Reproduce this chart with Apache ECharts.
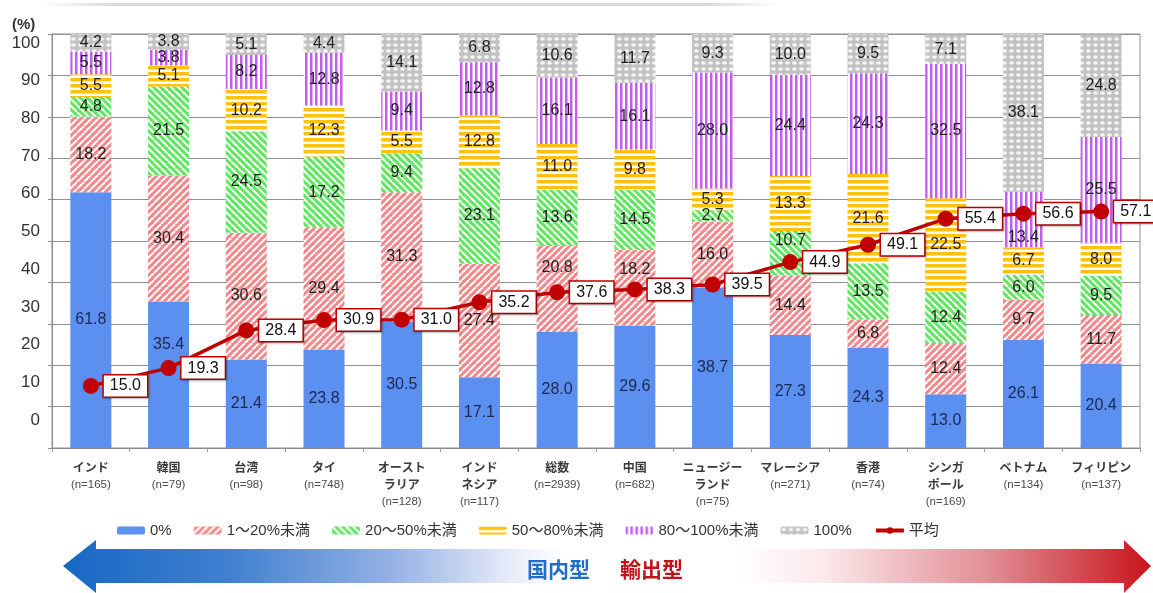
<!DOCTYPE html>
<html>
<head>
<meta charset="utf-8">
<script src="https://cdn.jsdelivr.net/npm/echarts@6/dist/echarts.min.js"></script>
<style>
  html, body { margin: 0; padding: 0; background: #fff; }
  #chart { width: 1153px; height: 593px; }
</style>
</head>
<body>
<div id="chart"></div>
<script>
// Country / region names (line breaks as printed) and sample sizes
const categories = ['インド', '韓国', '台湾', 'タイ', 'オースト\nラリア', 'インド\nネシア', '総数', '中国', 'ニュージー\nランド', 'マレーシア', '香港', 'シンガ\nポール', 'ベトナム', 'フィリピン'];
const sampleSizes = [165, 79, 98, 748, 128, 117, 2939, 682, 75, 271, 74, 169, 134, 137];

// Share of companies by export ratio band (%)
const band0 = [61.8, 35.4, 21.4, 23.8, 30.5, 17.1, 28.0, 29.6, 38.7, 27.3, 24.3, 13.0, 26.1, 20.4];
const band1to20 = [18.2, 30.4, 30.6, 29.4, 31.3, 27.4, 20.8, 18.2, 16.0, 14.4, 6.8, 12.4, 9.7, 11.7];
const band20to50 = [4.8, 21.5, 24.5, 17.2, 9.4, 23.1, 13.6, 14.5, 2.7, 10.7, 13.5, 12.4, 6.0, 9.5];
const band50to80 = [5.5, 5.1, 10.2, 12.3, 5.5, 12.8, 11.0, 9.8, 5.3, 13.3, 21.6, 22.5, 6.7, 8.0];
const band80to100 = [5.5, 3.8, 8.2, 12.8, 9.4, 12.8, 16.1, 16.1, 28.0, 24.4, 24.3, 32.5, 13.4, 25.5];
const band100 = [4.2, 3.8, 5.1, 4.4, 14.1, 6.8, 10.6, 11.7, 9.3, 10.0, 9.5, 7.1, 38.1, 24.8];

// Average export ratio (%)
const averageRatio = [15.0, 19.3, 28.4, 30.9, 31.0, 35.2, 37.6, 38.3, 39.5, 44.9, 49.1, 55.4, 56.6, 57.1];

const bandNames = ['0%', '1～20%未満', '20～50%未満', '50～80%未満', '80～100%未満', '100%'];
const averageName = '平均';
const yTicks = [0, 10, 20, 30, 40, 50, 60, 70, 80, 90, 100];

// A few segment labels are nudged vertically (px) so they clear the average line's boxes.
// key: "band index:category index"
const labelNudge = { '0:1': -30, '1:6': -21, '1:7': -18, '2:9': -13, '4:12': 18 };

// ---- fill patterns ----
function pattern(w, h, draw) {
  const c = document.createElement('canvas');
  c.width = w; c.height = h;
  const g = c.getContext('2d');
  draw(g, w, h);
  return { image: c, repeat: 'repeat' };
}
const redHatch = pattern(7, 7, (g, w, h) => {
  g.fillStyle = '#f4878a'; g.fillRect(0, 0, w, h);
  g.strokeStyle = '#ffffff'; g.lineWidth = 2;
  for (const o of [-w, 0, w]) { g.beginPath(); g.moveTo(o, h); g.lineTo(o + h, 0); g.stroke(); }
});
const greenHatch = pattern(7, 7, (g, w, h) => {
  g.fillStyle = '#5fe85f'; g.fillRect(0, 0, w, h);
  g.strokeStyle = '#ffffff'; g.lineWidth = 2;
  for (const o of [-w, 0, w]) { g.beginPath(); g.moveTo(o, 0); g.lineTo(o + h, h); g.stroke(); }
});
const yellowStripes = pattern(4, 6, (g, w, h) => {
  g.fillStyle = '#ffffff'; g.fillRect(0, 0, w, h);
  g.fillStyle = '#ffc20e'; g.fillRect(0, 0, w, 3.5);
});
const purpleStripes = pattern(5, 4, (g, w, h) => {
  g.fillStyle = '#ffffff'; g.fillRect(0, 0, w, h);
  g.fillStyle = '#c45cf2'; g.fillRect(0, 0, 2.5, h);
});
const grayDots = pattern(7, 6, (g, w, h) => {
  g.fillStyle = '#c2c2c2'; g.fillRect(0, 0, w, h);
  g.fillStyle = '#f6f6f6';
  g.beginPath();
  g.ellipse(3.5, 3, 2.4, 1.8, 0, 0, Math.PI * 2);
  g.fill();
});

const bandData = [band0, band1to20, band20to50, band50to80, band80to100, band100];
const bandFills = ['#5b8ff0', redHatch, greenHatch, yellowStripes, purpleStripes, grayDots];

const barSeries = bandData.map((vals, i) => ({
  name: bandNames[i],
  type: 'bar',
  stack: 'share',
  barWidth: 41,
  xAxisIndex: 0,
  yAxisIndex: 0,
  data: vals.map((v, j) => {
    const dy = labelNudge[i + ':' + j];
    return dy ? { value: v, label: { offset: [0, dy] } } : v;
  }),
  itemStyle: { color: bandFills[i] },
  label: {
    show: true,
    position: 'inside',
    fontFamily: 'Liberation Sans, Arial, sans-serif',
    fontSize: 16,
    color: i === 0 ? '#1b2950' : '#1e1e1e',
    formatter: p => p.value.toFixed(1)
  }
}));

const lineSeries = {
  name: averageName,
  type: 'line',
  xAxisIndex: 0,
  yAxisIndex: 0,
  data: averageRatio,
  z: 10,
  symbol: 'circle',
  symbolSize: 16,
  lineStyle: { color: '#c00000', width: 3.5 },
  itemStyle: { color: '#c00000' },
  label: {
    show: true,
    position: 'right',
    distance: 5,
    formatter: p => p.value.toFixed(1),
    fontFamily: 'Liberation Sans, Arial, sans-serif',
    fontSize: 16,
    color: '#111',
    backgroundColor: '#ffffff',
    borderColor: '#c00000',
    borderWidth: 1.5,
    padding: [3, 6, 2, 6],
    shadowColor: 'rgba(0,0,0,0.25)',
    shadowBlur: 2,
    shadowOffsetX: 1,
    shadowOffsetY: 1
  }
};

const chart = echarts.init(document.getElementById('chart'), null, { renderer: 'canvas' });

chart.setOption({
  animation: false,
  backgroundColor: '#ffffff',
  textStyle: { fontFamily: 'Liberation Sans, "Noto Sans CJK JP", sans-serif' },
  grid: [
    // plotting area
    { left: 52, right: 13, top: 34, bottom: 145, show: true, borderColor: '#909090', borderWidth: 1 },
    // scale labels on the left
    { left: 52, right: 13, top: 43, bottom: 173 }
  ],
  xAxis: [
    {
      type: 'category',
      gridIndex: 0,
      data: categories,
      axisLine: { lineStyle: { color: '#8a8a8a' } },
      axisTick: { show: true, length: 4, lineStyle: { color: '#9a9a9a' } },
      axisLabel: {
        margin: 11,
        interval: 0,
        lineHeight: 17,
        formatter: (v, idx) => {
          const names = v.split('\n').map(s => '{a|' + s + '}').join('\n');
          return names + '\n{b|(n=' + sampleSizes[idx] + ')}';
        },
        rich: {
          a: { fontFamily: '"Noto Sans CJK JP", sans-serif', fontSize: 12, fontWeight: 'bold', color: '#3a3a3a', lineHeight: 17 },
          b: { fontFamily: 'Liberation Sans, Arial, sans-serif', fontSize: 11.5, color: '#4a4a4a', lineHeight: 17 }
        }
      }
    },
    { type: 'value', gridIndex: 1, min: 0, max: 1, show: false }
  ],
  yAxis: [
    {
      type: 'value',
      gridIndex: 0,
      min: 0,
      max: 100,
      interval: 10,
      axisLabel: { show: false },
      axisLine: { show: true, lineStyle: { color: '#8a8a8a' } },
      axisTick: { show: true, length: 4, lineStyle: { color: '#8a8a8a' } },
      splitLine: { show: true, lineStyle: { color: '#909090', width: 1 } }
    },
    {
      type: 'value',
      gridIndex: 1,
      min: yTicks[0],
      max: yTicks[yTicks.length - 1],
      interval: 10,
      axisLine: { show: false },
      axisTick: { show: false },
      splitLine: { show: false },
      axisLabel: { margin: 12, fontSize: 17, color: '#333', fontFamily: 'Liberation Sans, Arial, sans-serif' }
    }
  ],
  legend: {
    left: 112,
    top: 518,
    itemWidth: 28,
    itemHeight: 8,
    itemGap: 22,
    textStyle: { fontSize: 15, color: '#333', fontFamily: 'Liberation Sans, "Noto Sans CJK JP", sans-serif' },
    data: bandNames.map(n => ({ name: n, icon: 'roundRect' }))
      .concat([{ name: averageName, lineStyle: { width: 4 } }])
  },
  graphic: [
    {
      type: 'text', left: 12, top: 17,
      style: { text: '(%)', fontSize: 15, fontWeight: 'bold', fill: '#333', fontFamily: 'Liberation Sans, Arial, sans-serif' }
    },
    {
      type: 'rect', shape: { x: 40, y: 3, width: 740, height: 3 },
      style: { fill: new echarts.graphic.LinearGradient(0, 0, 1, 0, [
        { offset: 0, color: 'rgba(200,200,200,0)' },
        { offset: 0.1, color: 'rgba(200,200,200,0.7)' },
        { offset: 0.9, color: 'rgba(200,200,200,0.7)' },
        { offset: 1, color: 'rgba(200,200,200,0)' }
      ]) },
      silent: true
    },
    {
      type: 'polygon',
      shape: { points: [[63, 566], [96, 540], [96, 549], [1124, 549], [1124, 540], [1151, 566], [1124, 593], [1124, 583], [96, 583], [96, 593]] },
      style: {
        fill: new echarts.graphic.LinearGradient(0, 0, 1, 0, [
          { offset: 0, color: '#1668c4' },
          { offset: 0.15, color: '#3f80d0' },
          { offset: 0.3, color: '#93b0e4' },
          { offset: 0.41, color: '#e6ebf8' },
          { offset: 0.46, color: '#ffffff' },
          { offset: 0.62, color: '#ffffff' },
          { offset: 0.7, color: '#fbe8ea' },
          { offset: 0.85, color: '#e28f96' },
          { offset: 1, color: '#c8141c' }
        ])
      },
      silent: true
    },
    {
      type: 'text', left: 527, top: 559,
      style: { text: '国内型', fontSize: 21, fontWeight: 'bold', fill: '#1f6fc5', fontFamily: '"Noto Sans CJK JP", sans-serif' }
    },
    {
      type: 'text', left: 620, top: 559,
      style: { text: '輸出型', fontSize: 21, fontWeight: 'bold', fill: '#c4121a', fontFamily: '"Noto Sans CJK JP", sans-serif' }
    }
  ],
  series: barSeries.concat([lineSeries])
});
</script>
</body>
</html>
